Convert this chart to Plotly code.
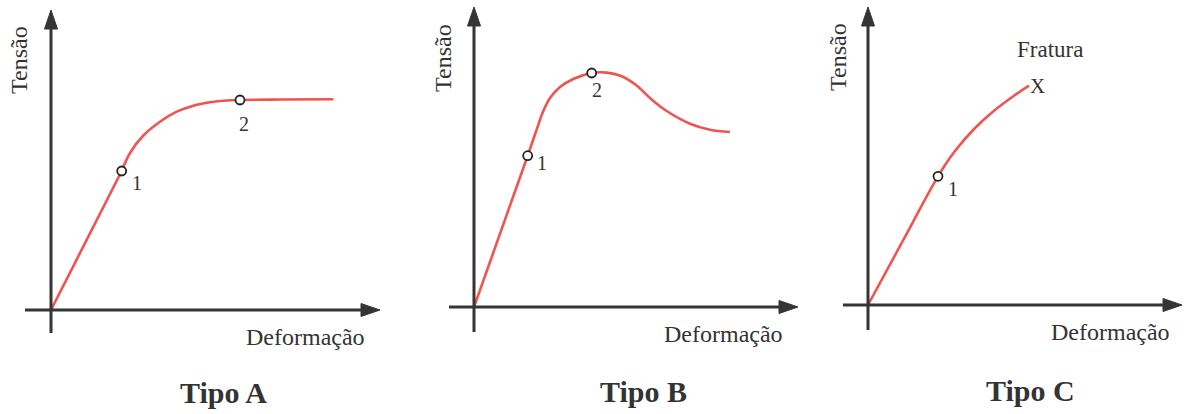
import plotly.graph_objects as go

# ---------------- data (strain / stress, arbitrary units) ----------------
# Tipo A
a_elastic_x = [0, 70.7]
a_elastic_y = [0, 139]
a_plastic_x = [70.7, 79, 92.3, 109, 125.7, 142.3, 159, 175.7, 189, 230, 282.3]
a_plastic_y = [139, 157, 174.5, 188.3, 198.3, 204.3, 207.7, 209.5, 210, 210.5, 210.7]
a_points_x = [70.7, 189]
a_points_y = [139, 210]
a_point_labels = ["1", "2"]

# Tipo B
b_elastic_x = [0, 53.7]
b_elastic_y = [0, 151.3]
b_plastic_x = [53.7, 62, 69.3, 76, 86, 99.3, 117.7, 132.7, 147, 162, 177, 192.7, 216, 236, 256]
b_plastic_y = [151.3, 175.5, 196, 209, 220, 228, 234, 234.4, 231, 222, 208, 196, 183.3, 177.3, 175]
b_points_x = [53.7, 117.7]
b_points_y = [151.3, 234]
b_point_labels = ["1", "2"]

# Tipo C
c_curve_x = [0, 35, 70, 86, 106, 126, 146, 161]
c_curve_y = [0, 64.5, 128.7, 152.7, 176, 194.3, 209.3, 219.3]
c_points_x = [70]
c_points_y = [128.7]
c_point_labels = ["1"]

panel_titles = ["Tipo A", "Tipo B", "Tipo C"]
x_label = "Deformação"
y_label = "Tensão"
fracture_label = "Fratura"
fracture_mark = "X"

# ---------------- layout helpers ----------------
W, H = 1192, 414
origins = [(51, 310), (474, 307), (868, 305)]   # pixel position of each panel origin
RED = "#ef5450"
AX = "#353535"
TXT = "#333333"
SERIF = "Liberation Serif, Times New Roman, serif"

fig = go.Figure()

def sfx(k):
    return "" if k == 0 else str(k + 1)

def add_curve(k, xs, ys, shape, smoothing=1.0):
    fig.add_trace(go.Scatter(x=xs, y=ys, mode="lines",
                             line=dict(color=RED, width=2.6, shape=shape, smoothing=smoothing),
                             xaxis="x" + sfx(k), yaxis="y" + sfx(k),
                             hoverinfo="skip", showlegend=False))

def add_points(k, xs, ys):
    fig.add_trace(go.Scatter(x=xs, y=ys, mode="markers",
                             marker=dict(symbol="circle", size=9, color="white",
                                         line=dict(color="#222222", width=1.8)),
                             xaxis="x" + sfx(k), yaxis="y" + sfx(k),
                             hoverinfo="skip", showlegend=False))

add_curve(0, a_elastic_x, a_elastic_y, "linear")
add_curve(0, a_plastic_x, a_plastic_y, "spline", 1.0)
add_points(0, a_points_x, a_points_y)

add_curve(1, b_elastic_x, b_elastic_y, "linear")
add_curve(1, b_plastic_x, b_plastic_y, "spline", 1.0)
add_points(1, b_points_x, b_points_y)

add_curve(2, c_curve_x, c_curve_y, "spline", 1.0)
add_points(2, c_points_x, c_points_y)

# axes with arrows (per panel, in that panel's data units = px)
axis_ext = [  # (x_left, x_tip, y_bottom, y_tip)
    (-26, 329, -23, 300),
    (-25, 324, -25, 300),
    (-25, 314, -25, 298),
]
shapes = []
for k, (xl, xt, yb, yt) in enumerate(axis_ext):
    xr, yr = "x" + sfx(k), "y" + sfx(k)
    shapes.append(dict(type="line", xref=xr, yref=yr, x0=xl, y0=0, x1=xt - 12, y1=0,
                       line=dict(color=AX, width=3)))
    shapes.append(dict(type="line", xref=xr, yref=yr, x0=0, y0=yb, x1=0, y1=yt - 12,
                       line=dict(color=AX, width=3)))
    shapes.append(dict(type="path", xref=xr, yref=yr,
                       path=f"M {xt},0 L {xt-19},6.5 L {xt-19},-6.5 Z",
                       fillcolor=AX, line=dict(color=AX, width=1)))
    shapes.append(dict(type="path", xref=xr, yref=yr,
                       path=f"M 0,{yt} L -6.5,{yt-19} L 6.5,{yt-19} Z",
                       fillcolor=AX, line=dict(color=AX, width=1)))

annotations = []
def txt(text, px, py, size, bold=False, angle=0):
    annotations.append(dict(text=f"<b>{text}</b>" if bold else text,
                            x=px / W, y=1 - py / H, xref="paper", yref="paper",
                            showarrow=False, textangle=angle,
                            xanchor="center", yanchor="middle",
                            font=dict(family=SERIF, size=size, color=TXT)))

def ptlabel(k, text, x, y, dx, dy, size=20):
    annotations.append(dict(text=text, x=x, y=y, xref="x" + sfx(k), yref="y" + sfx(k),
                            xshift=dx, yshift=dy, showarrow=False,
                            font=dict(family=SERIF, size=size, color=TXT)))

ptlabel(0, a_point_labels[0], a_points_x[0], a_points_y[0], 15, -12)
ptlabel(0, a_point_labels[1], a_points_x[1], a_points_y[1], 4, -24)
ptlabel(1, b_point_labels[0], b_points_x[0], b_points_y[0], 14, -7)
ptlabel(1, b_point_labels[1], b_points_x[1], b_points_y[1], 5, -17)
ptlabel(2, c_point_labels[0], c_points_x[0], c_points_y[0], 15, -13)

# fracture mark and label
ptlabel(2, fracture_mark, c_curve_x[-1], c_curve_y[-1], 8, 0, size=21)
txt(fracture_label, 1050, 50, 23)

txt(y_label, 19, 60, 24, angle=-90)
txt(y_label, 443, 58, 24, angle=-90)
txt(y_label, 838, 57, 24, angle=-90)
txt(x_label, 305, 337, 24)
txt(x_label, 723, 334, 24)
txt(x_label, 1110, 332, 24)
txt(panel_titles[0], 223, 392, 30, bold=True)
txt(panel_titles[1], 643, 391, 30, bold=True)
txt(panel_titles[2], 1030, 390, 30, bold=True)

def axis_pair(k):
    ox, oy = origins[k]
    xa = dict(range=[-ox, W - ox], domain=[0, 1], visible=False, fixedrange=True)
    ya = dict(range=[oy - H, oy], domain=[0, 1], visible=False, fixedrange=True)
    return xa, ya

xa1, ya1 = axis_pair(0)
xa2, ya2 = axis_pair(1)
xa3, ya3 = axis_pair(2)
xa2.update(overlaying="x", anchor="y2")
ya2.update(overlaying="y", anchor="x2")
xa3.update(overlaying="x", anchor="y3")
ya3.update(overlaying="y", anchor="x3")

fig.update_layout(
    width=W, height=H, autosize=False,
    margin=dict(l=0, r=0, t=0, b=0, pad=0),
    paper_bgcolor="white", plot_bgcolor="rgba(0,0,0,0)",
    xaxis=xa1, yaxis=ya1, xaxis2=xa2, yaxis2=ya2, xaxis3=xa3, yaxis3=ya3,
    shapes=shapes, annotations=annotations, showlegend=False,
)

fig.write_html("out.html", config={"displayModeBar": False, "staticPlot": True},
               post_script="document.body.style.margin='0';document.body.style.padding='0';document.body.style.overflow='hidden';")
